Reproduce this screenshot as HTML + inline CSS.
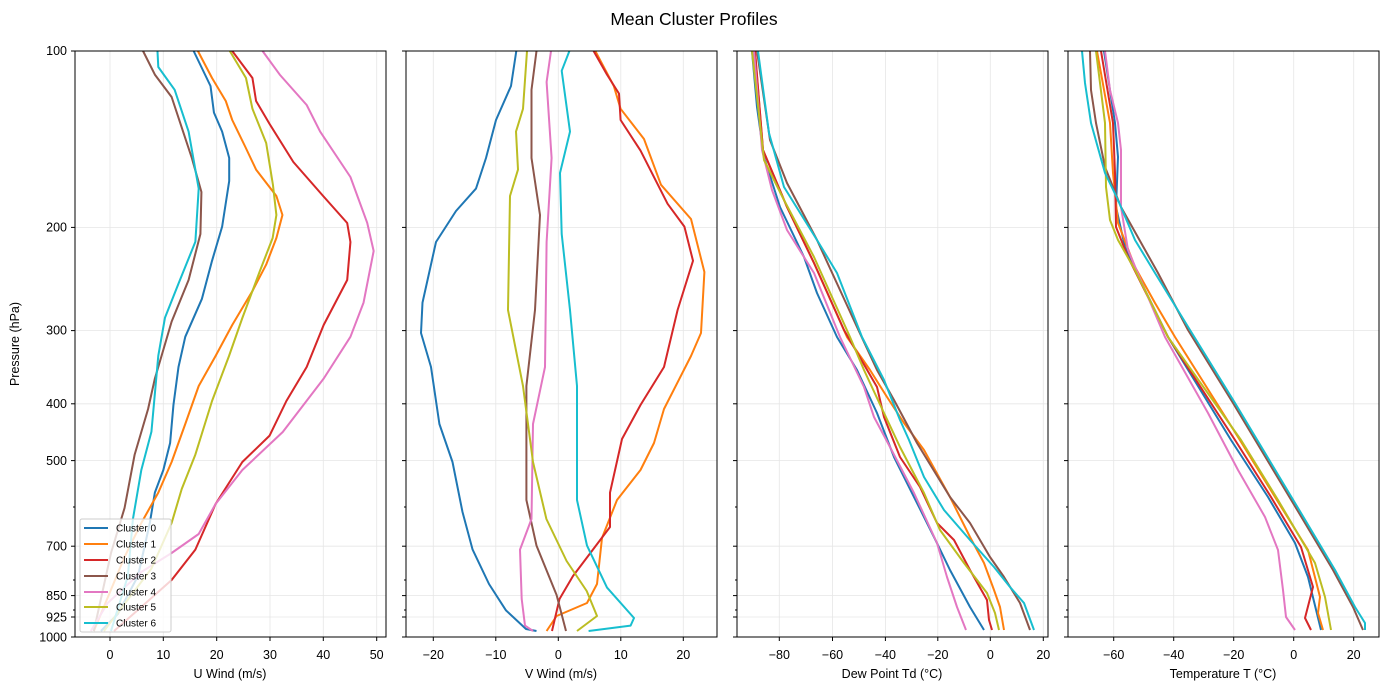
<!DOCTYPE html>
<html><head><meta charset="utf-8"><style>
body{margin:0;background:#fff;}
svg{display:block;font-family:"Liberation Sans",sans-serif;}
.g{stroke:#e6e6e6;stroke-width:0.8;}
.ax{fill:none;stroke:#000;stroke-width:1;}
.t{font-size:12.5px;fill:#000;}
.s{fill:none;stroke-width:2;stroke-linejoin:round;}
</style></head><body>
<svg width="1389" height="691" viewBox="0 0 1389 691">
<text x="694" y="25" text-anchor="middle" style="font-size:17.5px">Mean Cluster Profiles</text>
<defs>
<g id="hg">
<line x1="0" x2="311" y1="51" y2="51" class="g"/><line x1="0" x2="311" y1="227.4" y2="227.4" class="g"/>
<line x1="0" x2="311" y1="330.6" y2="330.6" class="g"/><line x1="0" x2="311" y1="403.8" y2="403.8" class="g"/>
<line x1="0" x2="311" y1="460.6" y2="460.6" class="g"/><line x1="0" x2="311" y1="546.2" y2="546.2" class="g"/>
<line x1="0" x2="311" y1="595.6" y2="595.6" class="g"/><line x1="0" x2="311" y1="617" y2="617" class="g"/>
<g stroke="#000" stroke-width="1">
<line x1="-4" x2="0" y1="51" y2="51"/><line x1="-4" x2="0" y1="227.4" y2="227.4"/><line x1="-4" x2="0" y1="330.6" y2="330.6"/>
<line x1="-4" x2="0" y1="403.8" y2="403.8"/><line x1="-4" x2="0" y1="460.6" y2="460.6"/><line x1="-4" x2="0" y1="546.2" y2="546.2"/>
<line x1="-4" x2="0" y1="595.6" y2="595.6"/><line x1="-4" x2="0" y1="617" y2="617"/><line x1="-4" x2="0" y1="637" y2="637"/>
<line x1="-2" x2="0" y1="507" y2="507"/><line x1="-2" x2="0" y1="580" y2="580"/><line x1="-2" x2="0" y1="610" y2="610"/>
</g></g>
</defs>
<use href="#hg" x="75"/><use href="#hg" x="406"/><use href="#hg" x="737"/><use href="#hg" x="1068"/>
<g class="g">
<line x1="110" x2="110" y1="51" y2="637"/><line x1="163.3" x2="163.3" y1="51" y2="637"/><line x1="216.7" x2="216.7" y1="51" y2="637"/><line x1="270" x2="270" y1="51" y2="637"/><line x1="323.3" x2="323.3" y1="51" y2="637"/><line x1="376.7" x2="376.7" y1="51" y2="637"/>
<line x1="433.3" x2="433.3" y1="51" y2="637"/><line x1="495.8" x2="495.8" y1="51" y2="637"/><line x1="558.3" x2="558.3" y1="51" y2="637"/><line x1="620.8" x2="620.8" y1="51" y2="637"/><line x1="683.3" x2="683.3" y1="51" y2="637"/>
<line x1="779.3" x2="779.3" y1="51" y2="637"/><line x1="832.5" x2="832.5" y1="51" y2="637"/><line x1="885.4" x2="885.4" y1="51" y2="637"/><line x1="937.8" x2="937.8" y1="51" y2="637"/><line x1="990.3" x2="990.3" y1="51" y2="637"/><line x1="1043.3" x2="1043.3" y1="51" y2="637"/>
<line x1="1113.7" x2="1113.7" y1="51" y2="637"/><line x1="1173.7" x2="1173.7" y1="51" y2="637"/><line x1="1233.7" x2="1233.7" y1="51" y2="637"/><line x1="1293.7" x2="1293.7" y1="51" y2="637"/><line x1="1353.7" x2="1353.7" y1="51" y2="637"/>
</g>
<g stroke="#000" stroke-width="1">
<line x1="110" x2="110" y1="637" y2="641"/><line x1="163.3" x2="163.3" y1="637" y2="641"/><line x1="216.7" x2="216.7" y1="637" y2="641"/><line x1="270" x2="270" y1="637" y2="641"/><line x1="323.3" x2="323.3" y1="637" y2="641"/><line x1="376.7" x2="376.7" y1="637" y2="641"/>
<line x1="433.3" x2="433.3" y1="637" y2="641"/><line x1="495.8" x2="495.8" y1="637" y2="641"/><line x1="558.3" x2="558.3" y1="637" y2="641"/><line x1="620.8" x2="620.8" y1="637" y2="641"/><line x1="683.3" x2="683.3" y1="637" y2="641"/>
<line x1="779.3" x2="779.3" y1="637" y2="641"/><line x1="832.5" x2="832.5" y1="637" y2="641"/><line x1="885.4" x2="885.4" y1="637" y2="641"/><line x1="937.8" x2="937.8" y1="637" y2="641"/><line x1="990.3" x2="990.3" y1="637" y2="641"/><line x1="1043.3" x2="1043.3" y1="637" y2="641"/>
<line x1="1113.7" x2="1113.7" y1="637" y2="641"/><line x1="1173.7" x2="1173.7" y1="637" y2="641"/><line x1="1233.7" x2="1233.7" y1="637" y2="641"/><line x1="1293.7" x2="1293.7" y1="637" y2="641"/><line x1="1353.7" x2="1353.7" y1="637" y2="641"/>
</g>
<g class="t" text-anchor="middle">
<text x="110" y="659">0</text><text x="163.3" y="659">10</text><text x="216.7" y="659">20</text><text x="270" y="659">30</text><text x="323.3" y="659">40</text><text x="376.7" y="659">50</text>
<text x="433.3" y="659">−20</text><text x="495.8" y="659">−10</text><text x="558.3" y="659">0</text><text x="620.8" y="659">10</text><text x="683.3" y="659">20</text>
<text x="779.3" y="659">−80</text><text x="832.5" y="659">−60</text><text x="885.4" y="659">−40</text><text x="937.8" y="659">−20</text><text x="990.3" y="659">0</text><text x="1043.3" y="659">20</text>
<text x="1113.7" y="659">−60</text><text x="1173.7" y="659">−40</text><text x="1233.7" y="659">−20</text><text x="1293.7" y="659">0</text><text x="1353.7" y="659">20</text>
<text x="230" y="678">U Wind (m/s)</text><text x="561" y="678">V Wind (m/s)</text><text x="892" y="678">Dew Point Td (°C)</text><text x="1223" y="678">Temperature T (°C)</text>
</g>
<g class="t" text-anchor="end">
<text x="67" y="55">100</text><text x="67" y="231.5">200</text><text x="67" y="334.7">300</text><text x="67" y="408">400</text><text x="67" y="465">500</text><text x="67" y="550.5">700</text><text x="67" y="600">850</text><text x="67" y="621.5">925</text><text x="67" y="641.5">1000</text>
</g>
<text class="t" transform="translate(19,344) rotate(-90)" text-anchor="middle">Pressure (hPa)</text>

<!-- Panel 1 -->
<g class="s" transform="matrix(1.0102 0 0 1 -0.11 0)">
<polyline stroke="#1f77b4" points="191.8,51 208.5,86 211.9,112.6 220,131.6 227,158 227,181 220,226.6 210,260.8 200,298.8 183.5,336.8 176.8,367 171.8,405 168.5,443 161.8,470 153.4,492.6 148.4,523 136.7,576 116.7,614 100,631"/>
<polyline stroke="#ff7f0e" points="196,51 210,78 223.6,101 230,120 243,147 253.6,169.6 273.7,196 279.7,215 273.7,238 263.6,264.6 250,291 230,325 213.5,356 196.8,386 183.5,424 170,462 156.8,492.6 140,523 123.4,557 93,631"/>
<polyline stroke="#d62728" points="230,51 250,78 253.6,101 267,124 290.5,162 320,196 343.8,223 347,242 343.8,280 320.5,325 303.7,367 283.6,401 267,435.6 240,462 213.5,504 193.5,549.6 170,580 140,607 113,631"/>
<polyline stroke="#8c564b" points="141.7,51 153.4,74.6 170,97 190,158 199.5,192 198.5,234 186.8,280 170,321.6 153.4,378.6 146.7,409 133.4,454.6 123.4,508 110,553 93,631"/>
<polyline stroke="#e377c2" points="260,51 277,74.6 303.7,105 317,131.6 347,177 363.6,222.8 370,251 360,302.6 347,336.8 320.5,378.6 280,432 240,470 213.5,504 196.8,534 170,553 140,572 106.7,603 90,631"/>
<polyline stroke="#bcbd22" points="227.6,51 243.6,78 250,108.8 263.6,143 270.3,185 273.7,215 270,238 257,272 240,318 226.8,356 210,401 193.5,454.6 180,489 170,523 150,568.6 103,631"/>
<polyline stroke="#17becf" points="156,51 156.8,67 173,89.8 186.8,131.6 196.8,188.6 193.5,241.8 176.8,283.6 163.4,317.8 156.8,355.8 153.4,393.8 150,431.8 140,470 131.7,519 126.7,576 110,631"/>
</g>
<!-- Panel 2 -->
<g class="s">
<polyline stroke="#1f77b4" points="516.3,51 511,86 496,120 486,158 476,188.6 456,211 436,242 422.5,302.6 421,333 431,367 439.4,424 452.5,462 462.5,512 472.6,549.6 489,584 506,610.4 526,629 536.5,631"/>
<polyline stroke="#ff7f0e" points="595.3,51 613.8,86 620.6,108.8 644,139 661,184.8 691,219 704.4,272 701,333 691,356 664,409 654,443 640.5,470 617,500 602,538 597,584 587,603 556.6,616 546.6,631"/>
<polyline stroke="#d62728" points="593.6,51 607,74.6 619,93.6 620.6,120 640.5,150.6 667.6,203.8 684.4,226.6 693,260.8 677.6,310 664,367 640.5,405 622,439 610,492.6 610,527 573,576 559.5,599 552,631"/>
<polyline stroke="#8c564b" points="536.5,51 531.5,89.8 531.5,158 540,215 535,310 526.4,386 526.4,500 536.5,545.6 556.6,595 566,631"/>
<polyline stroke="#e377c2" points="551,51 546.6,82 551.6,158 546.6,242 545,367 533,424 531.5,519 520,549.6 521.7,599 525,625.6 533,631"/>
<polyline stroke="#bcbd22" points="527,51 523,108.8 516,131.6 518,169.6 510,196 508,310 523,386 533,462 546.4,519 566.6,561 586.7,591 597,616 577,631"/>
<polyline stroke="#17becf" points="569.4,51 561.7,70.8 570,131.6 560,173 561.7,234 570,310 577,386 577,500 587,545.6 607,587.6 634,618 630.6,625.6 588.6,631"/>
</g>
<!-- Panel 3 -->
<g class="s">
<polyline stroke="#1f77b4" points="752,51 757,107 764,157 780,207 804,257 817,293 837,337 857,370 877,413 894,457 914,497 934,537 950,570 970,607 984,630"/>
<polyline stroke="#ff7f0e" points="755,51 763,150 787,207 814,263 847,337 870,370 887,397 904,423 924,450 950,497 970,537 984,563 994,590 1000,607 1004,630"/>
<polyline stroke="#d62728" points="755,51 763,150 787,207 814,263 844,330 877,387 884,417 900,457 920,487 937,523 954,540 970,570 987,600 989,620 992,630"/>
<polyline stroke="#8c564b" points="757,51 770,140 787,183 817,240 857,327 877,370 894,400 917,443 950,497 970,523 990,557 1004,577 1020,603 1030,630"/>
<polyline stroke="#e377c2" points="754,51 762,150 772,190 787,230 814,273 840,337 864,387 874,417 890,447 914,493 937,543 947,577 957,607 966,630"/>
<polyline stroke="#bcbd22" points="752,51 764,160 784,200 814,257 850,337 864,370 884,413 900,447 924,493 940,530 964,563 987,593 995,613 999,630"/>
<polyline stroke="#17becf" points="758,51 769,133 784,187 817,240 837,273 862,337 884,380 900,420 909,440 924,477 944,510 970,540 994,567 1010,587 1024,603 1034,630"/>
</g>
<!-- Panel 4 -->
<g class="s">
<polyline stroke="#1f77b4" points="1104,51 1115,123 1118,157 1116,207 1125,247 1145,290 1168,337 1231,440 1268,497 1295,543 1308,577 1321,630"/>
<polyline stroke="#ff7f0e" points="1097,51 1110,123 1113,173 1118,223 1135,267 1155,303 1175,337 1238,437 1275,497 1308,550 1320,597 1318,613 1323,630"/>
<polyline stroke="#d62728" points="1101,51 1113,123 1115,173 1116,227 1128,257 1146,293 1168,337 1235,440 1271,497 1301,547 1313,587 1305,618 1311,630"/>
<polyline stroke="#8c564b" points="1090,51 1091,90 1096,123 1105,167 1121,207 1158,273 1188,330 1233,403 1269,463 1299,513 1333,570 1353,607 1363,630"/>
<polyline stroke="#e377c2" points="1105,51 1110,90 1118,123 1121,150 1121,207 1128,250 1145,290 1165,337 1208,413 1238,470 1265,517 1278,550 1283,590 1286,617 1295,630"/>
<polyline stroke="#bcbd22" points="1096,51 1105,123 1106,187 1110,220 1118,240 1135,270 1168,337 1241,440 1278,500 1315,563 1325,597 1331,630"/>
<polyline stroke="#17becf" points="1082,51 1085,83 1091,123 1105,173 1118,200 1135,240 1155,273 1190,330 1235,403 1271,463 1301,513 1335,570 1355,607 1365,623 1365,630"/>
</g>
<rect class="ax" x="75" y="51" width="311" height="586"/>
<rect class="ax" x="406" y="51" width="311" height="586"/>
<rect class="ax" x="737" y="51" width="311" height="586"/>
<rect class="ax" x="1068" y="51" width="311" height="586"/>
<rect x="80" y="519" width="91" height="113" rx="2" fill="#fff" fill-opacity="0.8" stroke="#ccc"/>
<g stroke-width="2">
<line x1="84" x2="108" y1="528" y2="528" stroke="#1f77b4"/><line x1="84" x2="108" y1="544" y2="544" stroke="#ff7f0e"/>
<line x1="84" x2="108" y1="560" y2="560" stroke="#d62728"/><line x1="84" x2="108" y1="576" y2="576" stroke="#8c564b"/>
<line x1="84" x2="108" y1="592" y2="592" stroke="#e377c2"/><line x1="84" x2="108" y1="607" y2="607" stroke="#bcbd22"/>
<line x1="84" x2="108" y1="623" y2="623" stroke="#17becf"/>
</g>
<g style="font-size:10px">
<text x="116" y="531.5">Cluster 0</text><text x="116" y="547.5">Cluster 1</text><text x="116" y="563.5">Cluster 2</text><text x="116" y="579.5">Cluster 3</text><text x="116" y="595.5">Cluster 4</text><text x="116" y="610.5">Cluster 5</text><text x="116" y="626.5">Cluster 6</text>
</g>
</svg>
</body></html>
